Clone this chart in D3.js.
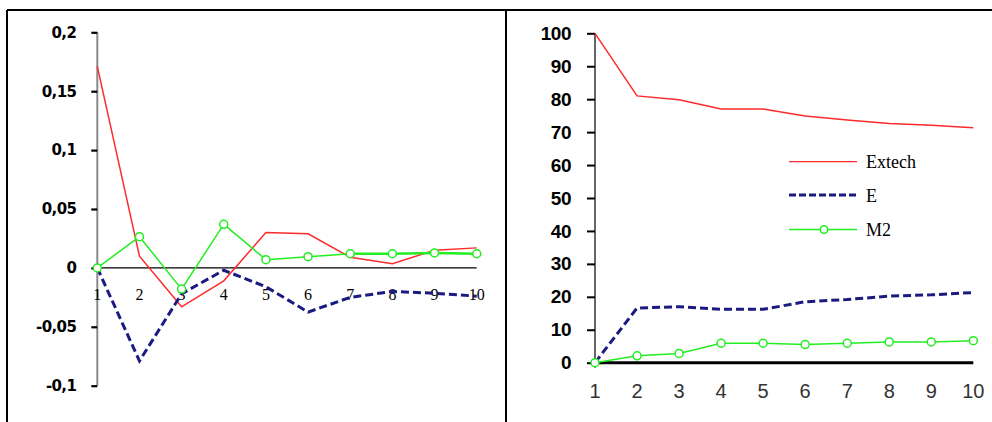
<!DOCTYPE html>
<html>
<head>
<meta charset="utf-8">
<script src="https://cdn.jsdelivr.net/npm/d3@7"></script>
<style>
  html, body { margin: 0; padding: 0; background: #fff; }
  svg { display: block; }
</style>
</head>
<body>
<svg id="chart" width="992" height="422"></svg>
<script>
// ---- Data ----
const steps = [1, 2, 3, 4, 5, 6, 7, 8, 9, 10];

// Left panel (differences)
const leftExtech = [0.171, 0.010, -0.033, -0.011, 0.030, 0.029, 0.009, 0.0035, 0.015, 0.017];
const leftE      = [0.000, -0.079, -0.022, -0.002, -0.016, -0.0375, -0.025, -0.020, -0.0215, -0.024];
const leftM2     = [0.000, 0.0265, -0.018, 0.037, 0.007, 0.0095, 0.012, 0.012, 0.0127, 0.012];
const leftTicks  = [-0.1, -0.05, 0, 0.05, 0.1, 0.15, 0.2];
const leftTickLabels = ["-0,1", "-0,05", "0", "0,05", "0,1", "0,15", "0,2"];

// Right panel (levels)
const rightExtech = [100, 81.0, 79.8, 77.0, 77.0, 74.9, 73.7, 72.6, 72.1, 71.3];
const rightE      = [0, 16.6, 17.0, 16.2, 16.2, 18.5, 19.2, 20.2, 20.6, 21.3];
const rightM2     = [0, 2.1, 2.8, 5.9, 5.9, 5.5, 5.9, 6.3, 6.3, 6.7];
const rightTicks  = [0, 10, 20, 30, 40, 50, 60, 70, 80, 90, 100];

const seriesNames = ["Extech", "E", "M2"];

// ---- Styles ----
const RED = "#ff2a2a", NAVY = "#1a1a80", GREEN = "#22ee22";

const svg = d3.select("#chart");

// Frame
svg.append("line").attr("x1", 7).attr("x2", 992).attr("y1", 10).attr("y2", 10).attr("stroke", "#000").attr("stroke-width", 2);
svg.append("line").attr("x1", 7).attr("x2", 7).attr("y1", 10).attr("y2", 422).attr("stroke", "#000").attr("stroke-width", 2);
svg.append("line").attr("x1", 506).attr("x2", 506).attr("y1", 10).attr("y2", 422).attr("stroke", "#000").attr("stroke-width", 2);

// ================= LEFT PANEL =================
const xL = d3.scaleLinear().domain([1, 10]).range([97.3, 476.7]);
const yL = d3.scaleLinear().domain([-0.1, 0.2]).range([385.7, 32.3]);

const gL = svg.append("g");
gL.append("line").attr("x1", xL(1)).attr("x2", xL(1)).attr("y1", yL(0.2)).attr("y2", yL(-0.1))
  .attr("stroke", "#8a8a8a").attr("stroke-width", 2);
const axL = gL.append("g").attr("transform", `translate(${xL(1)},0)`)
  .call(d3.axisLeft(yL).tickValues(leftTicks).tickSize(6).tickPadding(15)
    .tickFormat((d, i) => leftTickLabels[i]));
axL.select(".domain").remove();
axL.selectAll(".tick line").attr("stroke", "#000").attr("stroke-width", 2.2);
axL.selectAll(".tick text").attr("font-family", "DejaVu Sans, sans-serif").attr("font-weight", "bold")
  .attr("font-size", 15).attr("letter-spacing", -0.6).attr("fill", "#000");

gL.append("line").attr("x1", xL(1)).attr("x2", xL(10)).attr("y1", yL(0)).attr("y2", yL(0))
  .attr("stroke", "#000").attr("stroke-width", 1.2);

gL.selectAll("text.xl").data(steps).join("text").attr("class", "xl")
  .attr("x", d => xL(d)).attr("y", 300)
  .attr("text-anchor", "middle").attr("font-family", "Liberation Serif, Times New Roman, serif")
  .attr("font-size", 16).attr("fill", "#000").text(d => d);

const lineL = d3.line().x((d, i) => xL(steps[i])).y(d => yL(d));

gL.append("path").attr("d", lineL(leftExtech)).attr("fill", "none").attr("stroke", RED).attr("stroke-width", 1.5);
gL.append("path").attr("d", lineL(leftE)).attr("fill", "none").attr("stroke", NAVY).attr("stroke-width", 3)
  .attr("stroke-dasharray", "8,4");
const segs = d3.range(leftM2.length - 1).map(i => ({ i, a: leftM2[i], b: leftM2[i + 1] }));
gL.selectAll("line.m2seg").data(segs).join("line").attr("class", "m2seg")
  .attr("x1", d => xL(steps[d.i])).attr("x2", d => xL(steps[d.i + 1]))
  .attr("y1", d => yL(d.a)).attr("y2", d => yL(d.b))
  .attr("stroke", GREEN).attr("stroke-width", d => d.i >= 6 ? 2.6 : 1.5).attr("stroke-linecap", "round");
gL.selectAll("circle.m2").data(leftM2).join("circle").attr("class", "m2")
  .attr("cx", (d, i) => xL(steps[i])).attr("cy", d => yL(d)).attr("r", 4)
  .attr("fill", "#fff").attr("stroke", GREEN).attr("stroke-width", 1.5);

// ================= RIGHT PANEL =================
const xR = d3.scaleLinear().domain([1, 10]).range([595, 973.3]);
const yR = d3.scaleLinear().domain([0, 100]).range([362.7, 33.3]);

const gR = svg.append("g");
gR.append("line").attr("x1", xR(1)).attr("x2", xR(1)).attr("y1", yR(100)).attr("y2", yR(0) + 5)
  .attr("stroke", "#000").attr("stroke-width", 1.2);
const axR = gR.append("g").attr("transform", `translate(${xR(1)},0)`)
  .call(d3.axisLeft(yR).tickValues(rightTicks).tickSize(8).tickPadding(16).tickFormat(d3.format("d")));
axR.select(".domain").remove();
axR.selectAll(".tick line").attr("stroke", "#000").attr("stroke-width", 2);
axR.selectAll(".tick text").attr("font-family", "Liberation Sans, Arial, sans-serif").attr("font-weight", "bold")
  .attr("font-size", 19).attr("fill", "#000").attr("letter-spacing", -0.5);

gR.append("line").attr("x1", xR(1)).attr("x2", xR(10)).attr("y1", yR(0)).attr("y2", yR(0))
  .attr("stroke", "#000").attr("stroke-width", 3);
gR.selectAll("text.xr").data(steps).join("text").attr("class", "xr")
  .attr("x", d => xR(d)).attr("y", 398)
  .attr("text-anchor", "middle").attr("font-family", "Liberation Sans, Arial, sans-serif")
  .attr("font-size", 20).attr("fill", "#333").text(d => d);

const lineR = d3.line().x((d, i) => xR(steps[i])).y(d => yR(d));
gR.append("path").attr("d", lineR(rightExtech)).attr("fill", "none").attr("stroke", RED).attr("stroke-width", 1.5);
gR.append("path").attr("d", lineR(rightE)).attr("fill", "none").attr("stroke", NAVY).attr("stroke-width", 3)
  .attr("stroke-dasharray", "8,4");
gR.append("path").attr("d", lineR(rightM2)).attr("fill", "none").attr("stroke", GREEN).attr("stroke-width", 1.5);
gR.selectAll("circle.m2").data(rightM2).join("circle").attr("class", "m2")
  .attr("cx", (d, i) => xR(steps[i])).attr("cy", d => yR(d)).attr("r", 4)
  .attr("fill", "#fff").attr("stroke", GREEN).attr("stroke-width", 1.5);

// Legend
const legY = [161.7, 195, 229.5];
const lg = svg.append("g");
seriesNames.forEach((name, i) => {
  const y = legY[i];
  const ln = lg.append("line").attr("x1", 789).attr("x2", 857).attr("y1", y).attr("y2", y);
  if (i === 0) ln.attr("stroke", RED).attr("stroke-width", 1.3);
  if (i === 1) ln.attr("stroke", NAVY).attr("stroke-width", 3).attr("stroke-dasharray", "7,3");
  if (i === 2) {
    ln.attr("stroke", GREEN).attr("stroke-width", 1.3);
    lg.append("circle").attr("cx", 824).attr("cy", y).attr("r", 3.7)
      .attr("fill", "#fff").attr("stroke", GREEN).attr("stroke-width", 1.5);
  }
  lg.append("text").attr("x", 866).attr("y", y + 6.5)
    .attr("font-family", "Liberation Serif, Times New Roman, serif").attr("font-size", 18)
    .attr("fill", "#000").text(name);
});
</script>
</body>
</html>
